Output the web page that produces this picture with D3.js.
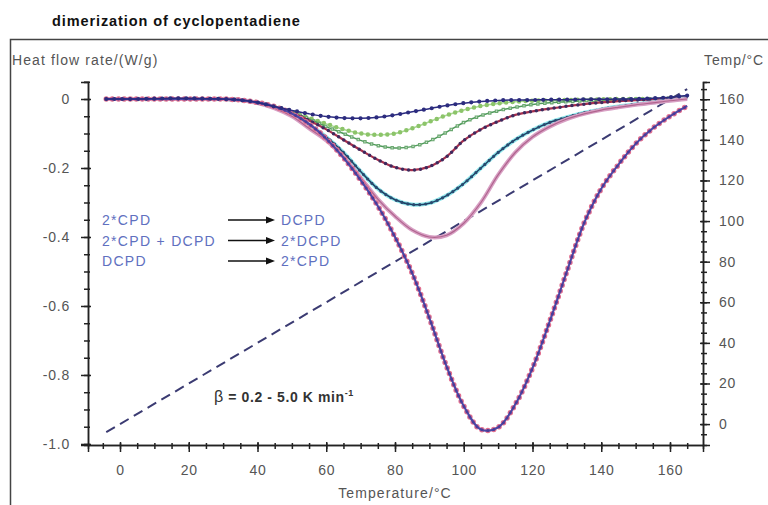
<!DOCTYPE html>
<html>
<head>
<meta charset="utf-8">
<script src="https://cdn.jsdelivr.net/npm/d3@7"></script>
<style>
  body { margin: 0; background: #fff; }
  text { font-family: "Liberation Sans", Arial, sans-serif; }
</style>
</head>
<body>
<div id="canvas"></div>
<script>
var width = 768;
var height = 505;

// temperature grid (degC) the heat flow curves are read at
const temps = [-4, 0, 5, 10, 15, 20, 25, 30, 35, 40, 45, 50, 55, 60, 65, 70, 75, 80, 85, 90,
    95, 100, 105, 110, 115, 120, 125, 130, 135, 140, 145, 150, 155, 160, 165];

// heat flow rate (W/g), one array per heating rate
const rate02 = [0, 0, 0, 0.001, 0.002, 0.002, 0.001, 0, -0.003, -0.01, -0.022, -0.033, -0.043, -0.051, -0.055, -0.056, -0.053, -0.046,
    -0.037, -0.028, -0.019, -0.012, -0.007, -0.004, -0.003, -0.003, -0.002, -0.002, -0.001, -0.001, 0, 0, 0.002, 0.005, 0.01];
const rate05 = [0, 0, 0, 0, 0, 0, 0, 0, -0.003, -0.01, -0.022, -0.037, -0.055, -0.072, -0.088, -0.1, -0.104, -0.1,
    -0.085, -0.066, -0.047, -0.032, -0.02, -0.013, -0.008, -0.005, -0.004, -0.003, -0.002, -0.001, 0, 0, 0, 0.002, 0.005];
const rate1 = [0, 0, 0, 0, 0, 0, 0, 0, -0.003, -0.01, -0.022, -0.038, -0.058, -0.08, -0.1, -0.12, -0.135, -0.142,
    -0.138, -0.122, -0.096, -0.068, -0.048, -0.034, -0.024, -0.016, -0.011, -0.008, -0.005, -0.003, -0.002, -0.001, 0, 0.002, 0.005];
const rate2 = [0, 0, 0, 0, 0, 0, 0, 0, -0.003, -0.01, -0.023, -0.04, -0.062, -0.088, -0.118, -0.148, -0.176, -0.198,
    -0.206, -0.196, -0.167, -0.12, -0.088, -0.065, -0.046, -0.036, -0.028, -0.021, -0.015, -0.01, -0.006, -0.003, -0.001, 0.002, 0.005];
const rate3 = [0, 0, 0, 0, 0, 0, 0, 0, -0.003, -0.011, -0.025, -0.045, -0.075, -0.11, -0.155, -0.21, -0.26, -0.292,
    -0.306, -0.302, -0.28, -0.245, -0.2, -0.155, -0.118, -0.09, -0.068, -0.053, -0.04, -0.03, -0.022, -0.015, -0.01, -0.004, 0.002];
const rate4 = [0, 0, 0, 0, 0, 0, 0, 0, -0.003, -0.012, -0.027, -0.05, -0.085, -0.12, -0.168, -0.228, -0.29, -0.34,
    -0.38, -0.4, -0.395, -0.36, -0.3, -0.22, -0.155, -0.11, -0.08, -0.058, -0.043, -0.032, -0.024, -0.017, -0.011, -0.005, 0];
const rate5 = [0, 0, 0, 0, 0, 0, 0, 0, -0.003, -0.01, -0.022, -0.042, -0.072, -0.115, -0.17, -0.235, -0.31, -0.4,
    -0.505, -0.635, -0.775, -0.89, -0.958, -0.952, -0.885, -0.78, -0.645, -0.5, -0.36, -0.26, -0.19, -0.13, -0.085, -0.05, -0.02];

// linear temperature program (start, end) in degC
const rampTemps = [-4, 165];

const xTicks = [0, 20, 40, 60, 80, 100, 120, 140, 160];
const yTicks = [0, -0.2, -0.4, -0.6, -0.8, -1.0];
const tTicks = [0, 20, 40, 60, 80, 100, 120, 140, 160];

const reactions = [
    ["2*CPD", "DCPD"],
    ["2*CPD + DCPD", "2*DCPD"],
    ["DCPD", "2*CPD"]
];

var svg = d3.select("#canvas").append("svg")
    .attr("width", width)
    .attr("height", height)
    .style("background-color", "white");

// outer frame
svg.append("rect")
    .attr("x", 10.5).attr("y", 39.5)
    .attr("width", 800).attr("height", 500)
    .attr("fill", "none").attr("stroke", "#444").attr("stroke-width", 1.5);

svg.append("text")
    .attr("x", 52).attr("y", 26)
    .style("font-size", "14.5px").style("font-weight", "bold").style("letter-spacing", "0.9px")
    .attr("fill", "#111")
    .text("dimerization of cyclopentadiene");

const xScale = d3.scaleLinear().domain([-9.31, 169.6]).range([88, 703]);
const yScale = d3.scaleLinear().domain([-1.003, 0.0493]).range([445, 82]);
const tScale = d3.scaleLinear().domain([-10.3, 168.5]).range([445, 82]);

// axes with crossing ticks
function styleAxis(g, fix) {
    g.select(".domain").attr("stroke", "#222").attr("stroke-width", 1.5);
    g.selectAll(".tick line").attr("stroke", "#222").attr("stroke-width", 1.5);
    g.selectAll(".tick text").attr("fill", "#555").style("font-size", "14px")
        .style("letter-spacing", "0.8px")
        .style("font-family", "'Liberation Sans', Arial, sans-serif");
    fix(g);
}

const minorX = d3.range(-5, 170, 5);
const minorY = d3.range(-1.0, 0.051, 0.05);
const minorT = d3.range(-5, 170, 5);

svg.append("g").attr("transform", "translate(0,445)")
    .call(d3.axisBottom(xScale).tickValues(minorX).tickSize(4).tickFormat(""))
    .call(g => styleAxis(g, g => g.selectAll(".tick line").attr("y1", -2)));
svg.append("g").attr("transform", "translate(0,445)")
    .call(d3.axisBottom(xScale).tickValues(xTicks).tickSize(7).tickPadding(13).tickFormat(d3.format("d")))
    .call(g => styleAxis(g, g => g.selectAll(".tick line").attr("y1", -3)));

svg.append("g").attr("transform", "translate(88,0)")
    .call(d3.axisLeft(yScale).tickValues(minorY).tickSize(4).tickFormat(""))
    .call(g => styleAxis(g, g => g.selectAll(".tick line").attr("x1", 2)));
svg.append("g").attr("transform", "translate(88,0)")
    .call(d3.axisLeft(yScale).tickValues(yTicks).tickSize(7).tickPadding(11)
        .tickFormat(d => d === 0 ? "0" : d.toFixed(1)))
    .call(g => styleAxis(g, g => g.selectAll(".tick line").attr("x1", 3)));

svg.append("g").attr("transform", "translate(703,0)")
    .call(d3.axisRight(tScale).tickValues(minorT).tickSize(4).tickFormat(""))
    .call(g => styleAxis(g, g => g.selectAll(".tick line").attr("x1", -2)));
svg.append("g").attr("transform", "translate(703,0)")
    .call(d3.axisRight(tScale).tickValues(tTicks).tickSize(7).tickPadding(9).tickFormat(d3.format("d")))
    .call(g => styleAxis(g, g => g.selectAll(".tick line").attr("x1", -3)));

// axis titles
const titleStyle = t => t.style("font-size", "14px").style("letter-spacing", "1.1px").attr("fill", "#555");
svg.append("text").attr("x", 12).attr("y", 65).call(titleStyle).text("Heat flow rate/(W/g)");
svg.append("text").attr("x", 704).attr("y", 65).call(titleStyle).style("letter-spacing", "0.9px").text("Temp/°C");
svg.append("text").attr("x", 395).attr("y", 498).attr("text-anchor", "middle")
    .call(titleStyle).text("Temperature/°C");

// temperature program (dashed, right axis)
svg.append("path")
    .datum(rampTemps)
    .attr("d", d3.line().x(d => xScale(d)).y(d => tScale(d)))
    .attr("fill", "none").attr("stroke", "#3b3b72").attr("stroke-width", 2)
    .attr("stroke-dasharray", "10 6");

const line = d3.line()
    .x((d, i) => xScale(temps[i]))
    .y(d => yScale(d))
    .curve(d3.curveCatmullRom.alpha(0.5));

function curve(values, styles) {
    styles.forEach(s => {
        const p = svg.append("path").datum(values)
            .attr("d", line)
            .attr("fill", "none")
            .attr("stroke", s.color)
            .attr("stroke-width", s.width);
        if (s.dash) p.attr("stroke-dasharray", s.dash);
        if (s.cap) p.attr("stroke-linecap", s.cap);
    });
}

curve(rate05, [
    { color: "#a8d890", width: 1.5 },
    { color: "#8cc46a", width: 4.5, dash: "0 6.5", cap: "round" }
]);
curve(rate1, [
    { color: "#4f9a5a", width: 1.5 },
    { color: "#6aa870", width: 3.5, dash: "0 7", cap: "square" },
    { color: "#d8ecd8", width: 1.2, dash: "0 7", cap: "square" }
]);
curve(rate2, [
    { color: "#a8304e", width: 2.2 },
    { color: "#3e2a5e", width: 3.5, dash: "0 6", cap: "round" }
]);
curve(rate3, [
    { color: "#8fe6ea", width: 4 },
    { color: "#1f3f66", width: 1.5 },
    { color: "#2a4a70", width: 3.2, dash: "0 6", cap: "round" }
]);
curve(rate4, [
    { color: "#d8a0c4", width: 4 },
    { color: "#b0648e", width: 1.2 }
]);
curve(rate5, [
    { color: "#e07090", width: 5.5, dash: "0 6", cap: "round" },
    { color: "#4848a8", width: 2 },
    { color: "#4a3c98", width: 3, dash: "0 6", cap: "round" }
]);
curve(rate02, [
    { color: "#2a2a80", width: 1.5 },
    { color: "#2c2c7e", width: 4.2, dash: "0 8", cap: "round" }
]);

// reaction scheme
const legend = svg.append("g");
reactions.forEach((r, i) => {
    const y = 225 + i * 20.5;
    legend.append("text").attr("x", 102).attr("y", y)
        .style("font-size", "14px").style("letter-spacing", "1.3px")
        .attr("fill", "#6070c0").text(r[0]);
    legend.append("text").attr("x", 281).attr("y", y)
        .style("font-size", "14px").style("letter-spacing", "1.3px")
        .attr("fill", "#6070c0").text(r[1]);
    legend.append("line")
        .attr("x1", 228).attr("x2", 268).attr("y1", y - 5).attr("y2", y - 5)
        .attr("stroke", "#111").attr("stroke-width", 1.5);
    legend.append("path")
        .attr("d", `M266,${y - 8.5} L275,${y - 5} L266,${y - 1.5} Z`)
        .attr("fill", "#111");
});

// heating rate note
const note = svg.append("text").attr("x", 214).attr("y", 402)
    .style("font-size", "14px").style("font-weight", "bold").style("letter-spacing", "0.6px")
    .attr("fill", "#333");
note.append("tspan").style("font-weight", "normal").style("font-size", "16px").text("β");
note.append("tspan").text(" = 0.2 - 5.0 K min");
note.append("tspan").attr("dy", -6).style("font-size", "9px").text("-1");
</script>
</body>
</html>
